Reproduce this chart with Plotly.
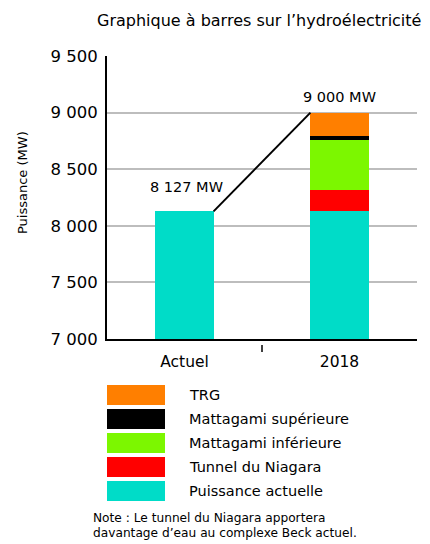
import plotly.graph_objects as go

# ---- data ----
categories = ["Actuel", "2018"]
series_names = ["Puissance actuelle", "Tunnel du Niagara", "Mattagami inférieure",
                "Mattagami supérieure", "TRG"]
series_colors = ["#00DCC8", "#FF0000", "#7CF700", "#000000", "#FF7F00"]
puissance_actuelle = [8127, 8127]
tunnel_niagara = [0, 190]
mattagami_inf = [0, 443]
mattagami_sup = [0, 37]
trg = [0, 203]
series_values = [puissance_actuelle, tunnel_niagara, mattagami_inf, mattagami_sup, trg]
y_ticks = [7000, 7500, 8000, 8500, 9000, 9500]
title = "Graphique à barres sur l’hydroélectricité"
y_title = "Puissance (MW)"
note_lines = ["Note : Le tunnel du Niagara apportera",
              "davantage d’eau au complexe Beck actuel."]

FONT = "DejaVu Sans"
W, H = 430, 544
OFF = 8  # page body margin
PL, PR, PT, PB = 107, 417, 56, 339  # plot area in screen pixels
L, R, T, B = PL - OFF, W - PR + OFF, PT - OFF, H - PB + OFF
BAR_W = 0.375

x_pos = list(range(len(categories)))
totals = [sum(s[i] for s in series_values) for i in x_pos]

fig = go.Figure()
for name, color, vals in zip(series_names, series_colors, series_values):
    fig.add_trace(go.Bar(x=x_pos, y=vals, name=name, marker=dict(color=color, line=dict(width=0)),
                         width=BAR_W, showlegend=False))

fig.add_trace(go.Scatter(x=[x_pos[0] + BAR_W / 2, x_pos[1] - BAR_W / 2], y=totals,
                         mode="lines", line=dict(color="black", width=2), showlegend=False,
                         hoverinfo="skip"))

def fmt(v):
    return f"{v:,}".replace(",", " ") + " MW"

shifts = [24, 16]
for i, t in enumerate(totals):
    fig.add_annotation(x=x_pos[i], y=t, text=fmt(t), showarrow=False, yanchor="middle",
                       yshift=shifts[i], xshift=2 if i == 0 else 0,
                       font=dict(family=FONT, size=14.5, color="black"))

plot_h = PB - PT
plot_w = PR - PL

def py(ypx):
    return (PB - ypx) / plot_h

def px(xpx):
    return (xpx - PL) / plot_w

fig.add_shape(type="line", xref="x", yref="paper", x0=0.5, x1=0.5, y0=py(345), y1=py(352),
              line=dict(color="black", width=1.5))

legend_top = 385
for k, (name, color) in enumerate(zip(reversed(series_names), reversed(series_colors))):
    y0 = legend_top + k * 24
    fig.add_shape(type="rect", xref="paper", yref="paper", x0=px(107), x1=px(165),
                  y0=py(y0 + 20), y1=py(y0), fillcolor=color, line=dict(width=0), layer="above")
    fig.add_annotation(xref="paper", yref="paper", x=px(187), y=py(y0 + 10), text=name,
                       showarrow=False, xanchor="left", yanchor="middle",
                       font=dict(family=FONT, size=14.5, color="black"))

for j, line in enumerate(note_lines):
    fig.add_annotation(xref="paper", yref="paper", x=px(91), y=py(518 + j * 15), text=line,
                       showarrow=False, xanchor="left", yanchor="middle", align="left",
                       font=dict(family=FONT, size=12.2, color="black"))

fig.add_annotation(xref="paper", yref="paper", x=px(22), y=py(183), text=y_title, textangle=-90,
                   showarrow=False, xanchor="center", yanchor="middle",
                   font=dict(family=FONT, size=13, color="black"))

fig.update_layout(
    width=W, height=H,
    margin=dict(l=L, r=R, t=T, b=B),
    barmode="stack",
    plot_bgcolor="white", paper_bgcolor="white",
    title=dict(text=title, x=(97 - OFF) / W, xanchor="left", y=1 - (20 - OFF) / H,
               yanchor="middle", font=dict(family=FONT, size=16, color="black")),
    xaxis=dict(range=[-0.5, 1.5], tickvals=x_pos, ticktext=categories, showgrid=False,
               showline=True, linecolor="black", linewidth=2, ticks="", ticklabelstandoff=7,
               tickfont=dict(family=FONT, size=15.5, color="black"), fixedrange=True),
    yaxis=dict(range=[7000, 9500], tickvals=y_ticks,
               ticktext=[f"{v:,}".replace(",", " ") for v in y_ticks],
               showgrid=True, gridcolor="#BDBDBD", gridwidth=1.5, showline=True,
               linecolor="black", linewidth=2, ticks="", zeroline=False, ticklabelstandoff=4,
               tickfont=dict(family=FONT, size=16.5, color="black")),
    showlegend=False,
)

fig.write_html("out.html")
